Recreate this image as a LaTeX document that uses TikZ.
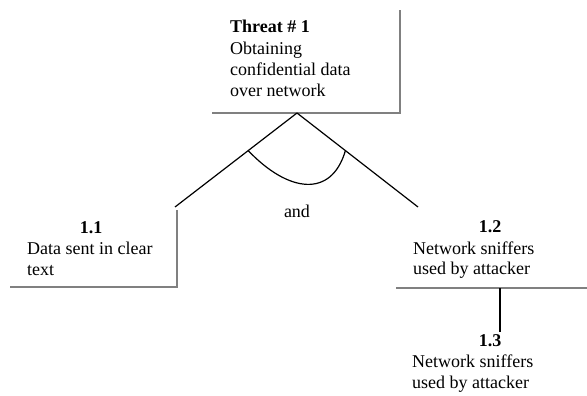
\documentclass[tikz,border=0pt]{standalone}
\usepackage{fontspec}
\setmainfont{Liberation Serif}
\usetikzlibrary{calc}
\begin{document}
\begin{tikzpicture}[x=1pt,y=-1pt,
  txt/.style={inner sep=0pt,anchor=base west,font=\fontsize{18}{21}\selectfont},
  num/.style={inner sep=0pt,anchor=base,font=\fontsize{18}{21}\selectfont\bfseries},
  frame/.style={draw=black!50,line width=2pt},
  link/.style={draw=black,line width=1.2pt}]
\useasboundingbox (0,0) rectangle (587,396);
% top box
\node[txt] (t0) at (230,33) {\bfseries Threat \# 1};
\node[txt] (t1) at (230,55) {Obtaining};
\node[txt] (t2) at (230,76) {confidential data};
\node[txt] (t3) at (230,97) {over network};
\draw[frame] (212,113) -- (400,113) -- (400,10);
\coordinate (apex) at (297,113);
% box 1.1
\node[num] (n11) at (91,233) {1.1};
\node[txt] (a1) at (27,254) {Data sent in clear};
\node[txt] (a2) at (27,275) {text};
\draw[frame] (10,287) -- (177,287) -- (177,210);
\coordinate (top11) at (175,207);
% box 1.2
\node[num] (n12) at (490,232) {1.2};
\node[txt] (b1) at (413,254) {Network sniffers};
\node[txt] (b2) at (413,274) {used by attacker};
\draw[frame] (396,288) -- (587,288);
\coordinate (top12) at (418,207);
\coordinate (bot12) at (500,288);
% box 1.3
\node[num] (n13) at (490,346) {1.3};
\node[txt] (c1) at (412,367) {Network sniffers};
\node[txt] (c2) at (412,388) {used by attacker};
\coordinate (top13) at (500,332);
% connectors
\draw[link] (apex) -- (top11);
\draw[link] (apex) -- (top12);
\draw[link] (bot12) -- (top13);
\coordinate (arcL) at ($(apex)!0.4!(top11)$);
\coordinate (arcR) at ($(apex)!0.4!(top12)$);
\draw[link] (arcL) .. controls +(40,42) and +(-14,48) .. (arcR);
\node[txt,anchor=base] (and) at (297,217) {and};
\end{tikzpicture}
\end{document}
